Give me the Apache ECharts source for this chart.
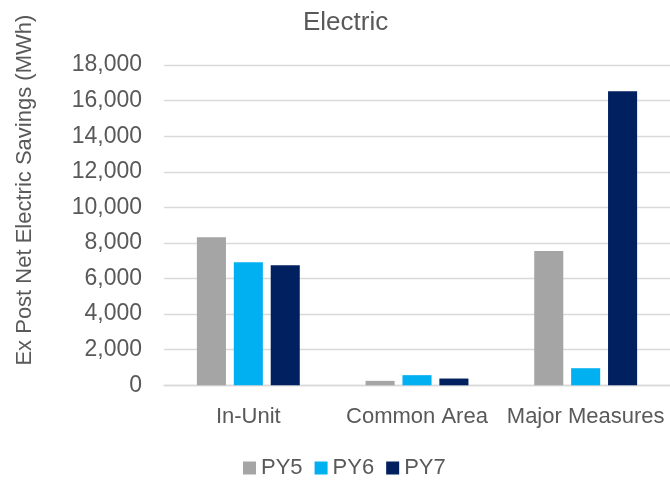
<!DOCTYPE html>
<html>
<head>
<meta charset="utf-8">
<script src="https://cdn.jsdelivr.net/npm/echarts@6/dist/echarts.min.js"></script>
<style>
html,body{margin:0;padding:0;background:#fff;}
#chart{width:670px;height:483px;}
</style>
</head>
<body>
<div id="chart"></div>
<script>
const categories = ['In-Unit', 'Common Area', 'Major Measures'];
const seriesNames = ['PY5', 'PY6', 'PY7'];
const py5 = [8320, 250, 7550];
const py6 = [6920, 570, 960];
const py7 = [6750, 380, 16520];
const colors = ['#A5A5A5', '#00B0F0', '#002060'];
const FONT = 'Liberation Sans';
const TXT = '#595959';

const chart = echarts.init(document.getElementById('chart'), null, {renderer: 'canvas'});
const values = [py5, py6, py7];
chart.setOption({
  animation: false,
  textStyle: {fontFamily: FONT, color: TXT},
  title: {
    text: 'Electric',
    left: 298,
    top: 5,
    textStyle: {fontFamily: FONT, fontSize: 26, fontWeight: 'normal', color: TXT}
  },
  legend: {
    data: seriesNames,
    left: 243,
    top: 457,
    padding: 0,
    icon: 'rect',
    itemWidth: 13,
    itemHeight: 13,
    itemGap: 12,
    textStyle: {fontFamily: FONT, fontSize: 22, color: TXT}
  },
  grid: {left: 164, right: -2, top: 65, bottom: 97.7, containLabel: false},
  xAxis: {
    type: 'category',
    data: categories,
    axisLine: {show: true, lineStyle: {color: '#D9D9D9', width: 1.3}},
    axisTick: {show: false},
    axisLabel: {fontFamily: FONT, fontSize: 22, color: TXT, margin: 21, interval: 0}
  },
  yAxis: {
    type: 'value',
    min: 0,
    max: 18000,
    interval: 2000,
    name: 'Ex Post Net Electric Savings (MWh)',
    nameLocation: 'middle',
    nameGap: 128,
    nameTextStyle: {fontFamily: FONT, fontSize: 22, color: TXT, padding: [0, 0, 0, 70]},
    axisLine: {show: false},
    axisTick: {show: false},
    splitLine: {lineStyle: {color: '#D9D9D9', width: 1.3}},
    axisLabel: {
      fontFamily: FONT, fontSize: 23, color: TXT, margin: 22,
      formatter: v => v.toLocaleString('en-US')
    }
  },
  series: seriesNames.map((n, i) => ({
    name: n,
    type: 'bar',
    data: values[i],
    barGap: '27%',
    barCategoryGap: '39%',
    itemStyle: {color: colors[i]}
  }))
});
</script>
</body>
</html>
